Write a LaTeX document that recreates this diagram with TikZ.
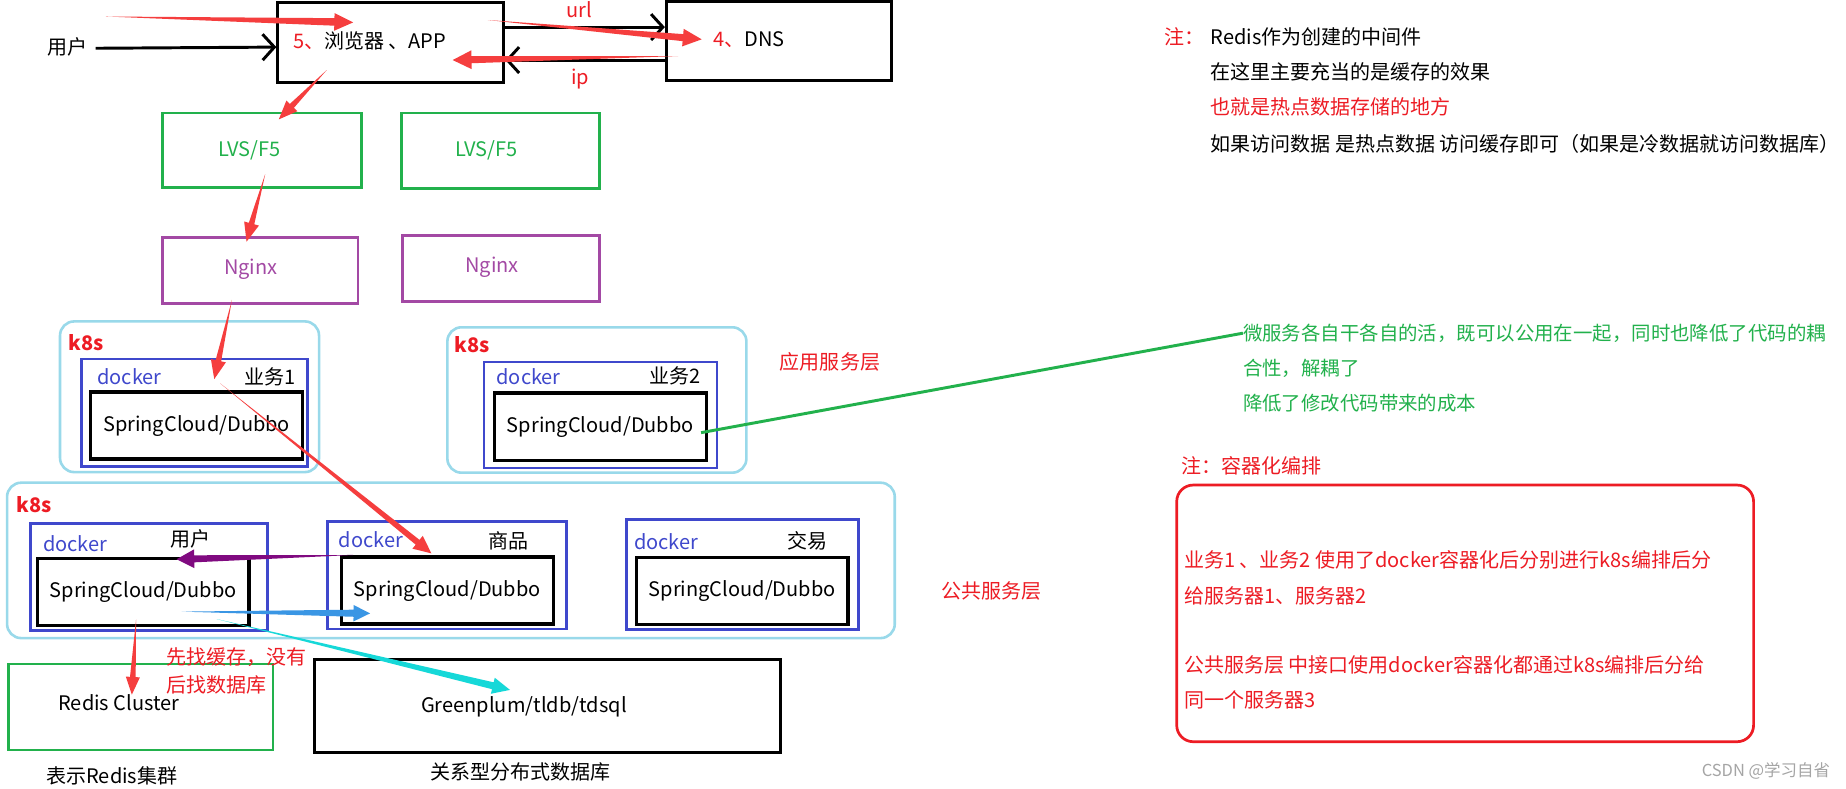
\documentclass[tikz,border=0pt]{standalone}
\usepackage{fontspec}
\setmainfont{Noto Sans CJK SC}
\usetikzlibrary{arrows.meta,calc}
\definecolor{PaintRed}{RGB}{237,28,36}
\definecolor{ArrowRed}{RGB}{245,62,62}
\definecolor{PaintGreen}{RGB}{34,177,76}
\definecolor{PaintPurple}{RGB}{163,73,164}
\definecolor{PaintIndigo}{RGB}{63,72,204}
\definecolor{PaintTurq}{RGB}{153,217,234}
\definecolor{ArrowPurple}{RGB}{128,10,128}
\definecolor{ArrowBlue}{RGB}{58,150,228}
\definecolor{ArrowCyan}{RGB}{22,216,216}
\definecolor{MarkGray}{RGB}{165,165,165}
\newcommand{\pfont}{\fontsize{17}{20}\selectfont}
\newcommand{\gfont}{\fontsize{16.5}{20}\selectfont}
% tapered paint-style arrow: colour, from, to, shaft half-width, head half-width, head length
\newcommand{\paintarrow}[6]{%
  \coordinate (pa-base) at ($(#3)!#6!(#2)$);
  \fill[#1] (#2) -- ($(pa-base)!#4!90:(#3)$) -- ($(pa-base)!#5!90:(#3)$) -- (#3)
    -- ($(pa-base)!#5!-90:(#3)$) -- ($(pa-base)!#4!-90:(#3)$) -- cycle;}

\begin{document}
\begin{tikzpicture}[x=1pt,y=-1pt,
  txt/.style={inner sep=0pt,font=\pfont},
  plainbox/.style={draw=black,line width=2.5pt},
  lvsbox/.style={draw=PaintGreen,line width=2.3pt},
  ngxbox/.style={draw=PaintPurple,line width=2.3pt},
  k8sbox/.style={draw=PaintTurq,line width=2.2pt,rounded corners=12pt},
  dockbox/.style={draw=PaintIndigo,line width=2.3pt},
  springbox/.style={draw=black,line width=3pt,inner sep=0pt,font=\pfont,
                    minimum width=180pt,minimum height=57pt},
  notebox/.style={draw=PaintRed,line width=2.3pt,rounded corners=14pt},
  barb/.style={-{Straight Barb[length=10pt,width=22pt]},line width=2.5pt},
  k8stag/.style={txt,text=PaintRed,font=\pfont\bfseries},
  docktag/.style={txt,text=PaintIndigo},
]
\useasboundingbox[fill=white] (0,0) rectangle (1568,670);

% top: browser and DNS
\node[plainbox,minimum width=192pt,minimum height=68pt] (browser) at (332,36) {};
\node[plainbox,minimum width=191pt,minimum height=67pt] (dns) at (661.5,34.5) {};
\node[txt] (usr) at (57,40) {用户};
\node[txt] (browsertxt) at (314,35) {\textcolor{PaintRed}{5、}浏览器 、APP};
\node[txt] (dnstxt) at (636,34) {\textcolor{PaintRed}{4、}DNS};
\node[txt,text=PaintRed] (url) at (492,8) {url};
\node[txt,text=PaintRed] (ip) at (493,67) {ip};
\draw[barb] (usr.east) ++(7,1) -- (usr -| browser.west);
\draw[barb] ([yshift=13pt]browser.east) -- ([yshift=11.5pt]dns.west);
\draw[barb] ([yshift=-16.5pt]dns.west) -- ([yshift=-15pt]browser.east);

% access layer
\node[lvsbox,minimum width=169pt,minimum height=63pt] (lvsa) at (222.5,127.5) {};
\node[lvsbox,minimum width=168pt,minimum height=64pt] (lvsb) at (425,128) {};
\node[txt,text=PaintGreen] at (212,128) {LVS/F5};
\node[txt,text=PaintGreen] at (413,128) {LVS/F5};
\node[ngxbox,minimum width=166pt,minimum height=56pt] (ngxa) at (221,230) {};
\node[ngxbox,minimum width=167pt,minimum height=56pt] (ngxb) at (425.5,228) {};
\node[txt,text=PaintPurple] at (213,229) {Nginx};
\node[txt,text=PaintPurple] at (418,227) {Nginx};

% application service layer
\node[k8sbox,minimum width=220pt,minimum height=128pt] (k8sa) at (161,337) {};
\node[k8sbox,minimum width=254pt,minimum height=123.5pt] (k8sb) at (507,339.75) {};
\node[k8stag] at (73,291) {k8s};
\node[k8stag] at (401,293) {k8s};
\node[dockbox,minimum width=192pt,minimum height=91pt] (docka) at (165,350.5) {};
\node[dockbox,minimum width=198pt,minimum height=90pt] (dockb) at (510,352.5) {};
\node[docktag] at (110,320) {docker};
\node[docktag] at (449,320) {docker};
\node[txt] at (229,320.5) {业务1};
\node[txt] at (573,319.5) {业务2};
\node[springbox] (spra) at (167,361.5) {SpringCloud/Dubbo};
\node[springbox] (sprb) at (510,362.5) {SpringCloud/Dubbo};
\node[txt,text=PaintRed] at (705,307) {应用服务层};

% public service layer
\node[k8sbox,minimum width=754pt,minimum height=132pt] (k8sc) at (383,476) {};
\node[k8stag] at (29,429) {k8s};
\node[dockbox,minimum width=201pt,minimum height=91pt] (dockc) at (126.5,490) {};
\node[dockbox,minimum width=203pt,minimum height=91pt] (dockd) at (379.5,488.7) {};
\node[dockbox,minimum width=197pt,minimum height=93.5pt] (docke) at (630.5,487.75) {};
\node[docktag] at (64,462) {docker};
\node[docktag] at (315,458) {docker};
\node[docktag] at (566,460) {docker};
\node[txt] at (162,458) {用户};
\node[txt] at (432,459) {商品};
\node[txt] at (685.5,459) {交易};
\node[springbox] (sprc) at (121.7,502.75) {SpringCloud/Dubbo};
\node[springbox] (sprd) at (380,501.7) {SpringCloud/Dubbo};
\node[springbox] (spre) at (630.5,501.85) {SpringCloud/Dubbo};
\node[txt,text=PaintRed] at (842,502) {公共服务层};

% storage
\node[lvsbox,minimum width=225pt,minimum height=73pt] (redis) at (119.5,600.5) {};
\node[plainbox,minimum width=396pt,minimum height=79pt] (gp) at (464.9,599.4) {};
\node[txt] at (101,597) {Redis Cluster};
\node[txt] at (445,600) {Greenplum/tldb/tdsql};
\node[txt] at (95,659) {表示Redis集群};
\node[txt] at (442,656) {关系型分布式数据库};
\node[txt,text=PaintRed,anchor=west] at (141,558) {先找缓存，没有};
\node[txt,text=PaintRed,anchor=west] at (141,582) {后找数据库};

% notes on the right
\node[txt,text=PaintRed,anchor=west] at (989,31) {注：};
\node[txt,anchor=west] at (1028,31) {Redis作为创建的中间件};
\node[txt,anchor=west] at (1028,61) {在这里主要充当的是缓存的效果};
\node[txt,anchor=west,text=PaintRed] at (1028,91) {也就是热点数据存储的地方};
\node[txt,anchor=west] at (1028,122) {如果访问数据 是热点数据 访问缓存即可（如果是冷数据就访问数据库）};
\node[txt,anchor=west,text=PaintGreen,font=\gfont] (micro) at (1055.7,283) {微服务各自干各自的活，既可以公用在一起，同时也降低了代码的耦};
\node[txt,anchor=west,text=PaintGreen,font=\gfont] at (1055.7,313) {合性，解耦了};
\node[txt,anchor=west,text=PaintGreen,font=\gfont] at (1055.7,342.6) {降低了修改代码带来的成本};
\node[txt,anchor=west,text=PaintRed] at (1003,396) {注：容器化编排};
\node[notebox,minimum width=490pt,minimum height=218pt] (note) at (1244.5,521) {};
\node[txt,anchor=west,text=PaintRed] at (1005.6,475.7) {业务1 、业务2 使用了docker容器化后分别进行k8s编排后分};
\node[txt,anchor=west,text=PaintRed] at (1005.6,506) {给服务器1、服务器2};
\node[txt,anchor=west,text=PaintRed] at (1005.6,565) {公共服务层 中接口使用docker容器化都通过k8s编排后分给};
\node[txt,anchor=west,text=PaintRed] at (1005.6,594.6) {同一个服务器3};
\node[txt,text=MarkGray,font=\fontsize{14}{16}\selectfont] (mark) at (1500,654.6) {CSDN @学习自省};

\draw[PaintGreen,line width=2.5pt] ([xshift=-6pt,yshift=-5pt]sprb.east) -- (micro.west);

% hand-drawn arrows
\coordinate (r1a) at (90,14);      \coordinate (r1b) at (300,19);
\coordinate (r2a) at (414.5,17);   \coordinate (r2b) at (596,33.4);
\coordinate (r3a) at (576,47.6);   \coordinate (r3b) at (384.5,51);
\coordinate (r4a) at (277.5,59.5); \coordinate (r4b) at (236.8,101.4);
\coordinate (r5a) at (225.3,147.8);\coordinate (r5b) at (209.4,205.3);
\coordinate (r6a) at (197,254.8);  \coordinate (r6b) at (182,322);
\coordinate (r7a) at (187,325.6);  \coordinate (r7b) at (366.4,470);
\coordinate (r8a) at (115.6,526);  \coordinate (r8b) at (112,590);
\coordinate (pu-a) at (300,471.4); \coordinate (pu-b) at (150,475);
\coordinate (bl-a) at (154.3,519.5);\coordinate (bl-b) at (314.3,521);
\coordinate (cy-a) at (184,525.8); \coordinate (cy-b) at (433.2,586);
\paintarrow{ArrowRed}{r1a}{r1b}{3.2pt}{7.5pt}{16pt}
\paintarrow{ArrowRed}{r2a}{r2b}{3pt}{7.5pt}{16pt}
\paintarrow{ArrowRed}{r3a}{r3b}{3pt}{8pt}{16pt}
\paintarrow{ArrowRed}{r4a}{r4b}{2.4pt}{6.5pt}{16pt}
\paintarrow{ArrowRed}{r5a}{r5b}{2.4pt}{6.5pt}{16pt}
\paintarrow{ArrowRed}{r6a}{r6b}{2.4pt}{6.5pt}{16pt}
\paintarrow{ArrowRed}{r7a}{r7b}{2.6pt}{7pt}{15pt}
\paintarrow{ArrowRed}{r8a}{r8b}{2.4pt}{6pt}{15pt}
\paintarrow{ArrowPurple}{pu-a}{pu-b}{3pt}{8pt}{15pt}
\paintarrow{ArrowBlue}{bl-a}{bl-b}{3pt}{7pt}{14pt}
\paintarrow{ArrowCyan}{cy-a}{cy-b}{3pt}{7pt}{15pt}
\end{tikzpicture}
\end{document}
